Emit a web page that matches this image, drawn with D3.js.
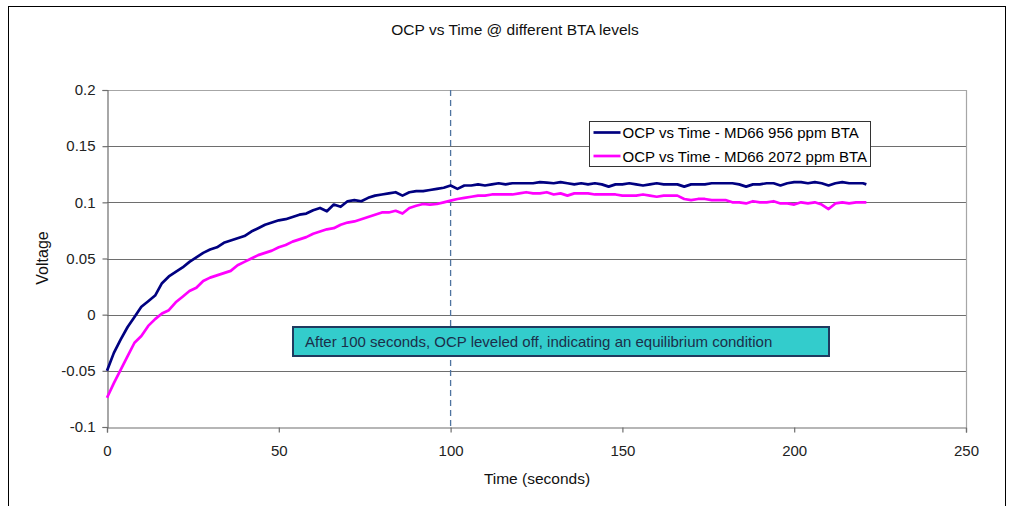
<!DOCTYPE html>
<html>
<head>
<meta charset="utf-8">
<script src="https://cdn.jsdelivr.net/npm/d3@7"></script>
<style>
  html, body { margin: 0; padding: 0; background: #fff; }
  svg { display: block; font-family: "Liberation Sans", Arial, sans-serif; }
</style>
</head>
<body>
<svg id="chart" width="1011" height="506"></svg>
<script>
// Sample times (s): every 2 s from 0 to 220, plus the last reading at 221 s
const times = d3.range(0, 221, 2).concat([221]);

// OCP readings (V), MD66 with 956 ppm BTA
const ocp956 = [
  -0.050, -0.034, -0.022, -0.011, -0.002, 0.007, 0.012, 0.017, 0.028, 0.034,
  0.038, 0.042, 0.047, 0.051, 0.055, 0.058, 0.060, 0.064, 0.066, 0.068,
  0.070, 0.074, 0.077, 0.080, 0.082, 0.084, 0.085, 0.087, 0.089, 0.090,
  0.093, 0.095, 0.092, 0.098, 0.096, 0.101, 0.102, 0.101, 0.104, 0.106,
  0.107, 0.108, 0.109, 0.106, 0.109, 0.110, 0.110, 0.111, 0.112, 0.113,
  0.115, 0.112, 0.115, 0.115, 0.116, 0.115, 0.116, 0.117, 0.116, 0.117,
  0.117, 0.117, 0.117, 0.118, 0.1175, 0.117, 0.118, 0.117, 0.116, 0.117,
  0.116, 0.117, 0.116, 0.114, 0.116, 0.116, 0.117, 0.116, 0.115, 0.116,
  0.117, 0.116, 0.116, 0.116, 0.114, 0.116, 0.116, 0.116, 0.117, 0.117,
  0.117, 0.117, 0.116, 0.114, 0.116, 0.116, 0.117, 0.117, 0.115, 0.117,
  0.118, 0.118, 0.117, 0.118, 0.117, 0.115, 0.117, 0.118, 0.117, 0.117,
  0.117, 0.116
];

// OCP readings (V), MD66 with 2072 ppm BTA
const ocp2072 = [
  -0.074, -0.061, -0.049, -0.037, -0.025, -0.019, -0.010, -0.004, 0.001, 0.004,
  0.011, 0.016, 0.021, 0.024, 0.030, 0.033, 0.035, 0.037, 0.039, 0.044,
  0.047, 0.050, 0.053, 0.055, 0.057, 0.060, 0.062, 0.065, 0.067, 0.069,
  0.072, 0.074, 0.076, 0.077, 0.080, 0.082, 0.083, 0.085, 0.087, 0.089,
  0.091, 0.091, 0.0925, 0.090, 0.095, 0.097, 0.0985, 0.098, 0.0985, 0.100,
  0.1015, 0.103, 0.104, 0.105, 0.106, 0.106, 0.107, 0.107, 0.107, 0.107,
  0.108, 0.109, 0.108, 0.108, 0.109, 0.107, 0.108, 0.106, 0.108, 0.108,
  0.108, 0.107, 0.107, 0.107, 0.107, 0.106, 0.106, 0.106, 0.107, 0.106,
  0.105, 0.106, 0.106, 0.106, 0.103, 0.102, 0.103, 0.103, 0.102, 0.102,
  0.102, 0.100, 0.100, 0.099, 0.101, 0.100, 0.100, 0.101, 0.099, 0.099,
  0.098, 0.100, 0.099, 0.100, 0.098, 0.094, 0.099, 0.100, 0.099, 0.100,
  0.100, 0.100
];

const seriesNames = ["OCP vs Time - MD66 956 ppm BTA", "OCP vs Time - MD66 2072 ppm BTA"];
const seriesColors = ["#000080", "#ff00ff"];

const xTicks = [0, 50, 100, 150, 200, 250];
const yTicks = [-0.1, -0.05, 0, 0.05, 0.1, 0.15, 0.2];
const yTickLabels = ["-0.1", "-0.05", "0", "0.05", "0.1", "0.15", "0.2"];

const titleText = "OCP vs Time @ different BTA levels";
const xTitle = "Time (seconds)";
const yTitle = "Voltage";
const markerTime = 100;
const noteText = "After 100 seconds, OCP leveled off, indicating an equilibrium condition";

const svg = d3.select("#chart");

// outer chart frame
svg.append("rect")
  .attr("x", 8.5).attr("y", 6.5).attr("width", 997).attr("height", 520)
  .attr("fill", "#fff").attr("stroke", "#000").attr("stroke-width", 1);

const plot = { left: 107, right: 966, top: 90, bottom: 427 };

const x = d3.scaleLinear().domain([0, 250]).range([plot.left, plot.right]);
const y = d3.scaleLinear().domain([-0.1, 0.2]).range([plot.bottom, plot.top]);

// horizontal gridlines
svg.append("g")
  .selectAll("line")
  .data(yTicks.slice(1, -1))
  .join("line")
  .attr("x1", plot.left).attr("x2", plot.right)
  .attr("y1", d => Math.round(y(d)) + 0.5).attr("y2", d => Math.round(y(d)) + 0.5)
  .attr("stroke", "#6e6e6e").attr("stroke-width", 1.2);

// plot area border (top and right)
svg.append("path")
  .attr("d", `M${plot.left},${plot.top + 0.5}H${plot.right + 0.5}V${plot.bottom}`)
  .attr("fill", "none").attr("stroke", "#a6a6a6").attr("stroke-width", 1.2);

// axes
const yAxis = d3.axisLeft(y)
  .tickValues(yTicks)
  .tickFormat((d, i) => yTickLabels[i])
  .tickSizeOuter(0).tickSize(5).tickPadding(7);
const xAxis = d3.axisBottom(x)
  .tickValues(xTicks)
  .tickFormat(d3.format("d"))
  .tickSizeOuter(0).tickSize(5).tickPadding(13);

const gy = svg.append("g").attr("transform", `translate(${plot.left + 0.5},0)`).call(yAxis);
const gx = svg.append("g").attr("transform", `translate(0,${plot.bottom + 0.5})`).call(xAxis);

[gx, gy].forEach(g => {
  g.select(".domain").attr("stroke", "#6e6e6e").attr("stroke-width", 1.2);
  g.selectAll(".tick line").attr("stroke", "#6e6e6e").attr("stroke-width", 1.2);
  g.selectAll(".tick text")
    .attr("fill", "#222")
    .style("font-size", "15px")
    .style("font-family", "'Liberation Sans', Arial, sans-serif");
});

// dashed marker at t = 100 s
svg.append("line")
  .attr("x1", x(markerTime)).attr("x2", x(markerTime))
  .attr("y1", plot.top).attr("y2", plot.bottom)
  .attr("stroke", "#4f74a0").attr("stroke-width", 1.3)
  .attr("stroke-dasharray", "6,4");

// series lines
const line = d3.line().x((d, i) => x(times[i])).y(d => y(d));
[ocp956, ocp2072].forEach((vals, k) => {
  svg.append("path")
    .datum(vals)
    .attr("d", line)
    .attr("fill", "none")
    .attr("stroke", seriesColors[k])
    .attr("stroke-width", 2.7)
    .attr("stroke-linejoin", "round");
});

// title and axis titles
svg.append("text")
  .attr("x", 515).attr("y", 35)
  .attr("text-anchor", "middle")
  .attr("fill", "#111")
  .style("font-size", "15.5px")
  .text(titleText);

svg.append("text")
  .attr("x", 537).attr("y", 484)
  .attr("text-anchor", "middle")
  .attr("fill", "#111")
  .style("font-size", "15.5px")
  .text(xTitle);

svg.append("text")
  .attr("transform", "translate(48,258) rotate(-90)")
  .attr("text-anchor", "middle")
  .attr("fill", "#111")
  .style("font-size", "16px")
  .text(yTitle);

// legend
const legend = svg.append("g").attr("transform", "translate(589.5,121.5)");
legend.append("rect")
  .attr("width", 281).attr("height", 45)
  .attr("fill", "#fff").attr("stroke", "#333").attr("stroke-width", 1);
seriesNames.forEach((name, i) => {
  const ly = 11 + i * 23.5;
  legend.append("line")
    .attr("x1", 4).attr("x2", 31)
    .attr("y1", ly).attr("y2", ly)
    .attr("stroke", seriesColors[i]).attr("stroke-width", 2.7);
  legend.append("text")
    .attr("x", 33).attr("y", ly + 5.5)
    .attr("fill", "#000")
    .style("font-size", "15px")
    .text(name);
});

// annotation box
const note = svg.append("g").attr("transform", "translate(293,327)");
note.append("rect")
  .attr("width", 536).attr("height", 29)
  .attr("fill", "#33cccc").attr("stroke", "#1f3a5f").attr("stroke-width", 2);
note.append("text")
  .attr("x", 12).attr("y", 20)
  .attr("fill", "#1b2f4a")
  .style("font-size", "15px")
  .text(noteText);
</script>
</body>
</html>
